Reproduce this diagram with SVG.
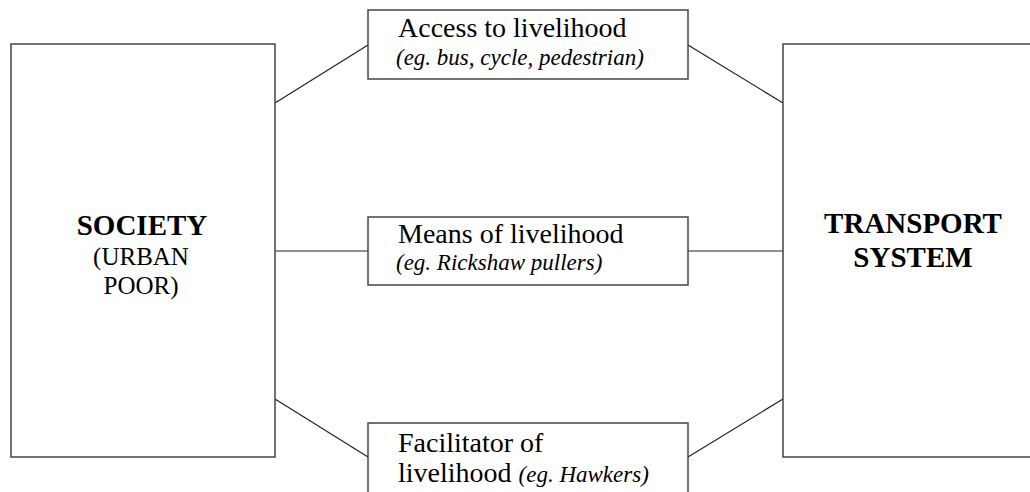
<svg xmlns="http://www.w3.org/2000/svg" width="1030" height="492" viewBox="0 0 1030 492">
<style>
.box{fill:#fff;stroke:#444;stroke-width:1.5}
.ln{stroke:#222;stroke-width:1.2;fill:none}
text{font-family:"Liberation Serif","Times New Roman",serif;fill:#000}
.big{font-size:29px;font-weight:bold}
.reg{font-size:28px}
.sub{font-size:25px}
.it{font-size:23px;font-style:italic}
</style>
<rect width="1030" height="492" fill="#fff"/>
<g id="connectors">
<line class="ln" x1="275" y1="103" x2="368" y2="45"/>
<line class="ln" x1="275" y1="251" x2="368" y2="251"/>
<line class="ln" x1="275" y1="399" x2="368" y2="457"/>
<line class="ln" x1="688" y1="45" x2="783" y2="103"/>
<line class="ln" x1="688" y1="251" x2="783" y2="251"/>
<line class="ln" x1="688" y1="457" x2="783" y2="399"/>
</g>
<g id="society">
<rect class="box" x="11" y="44" width="264" height="413"/>
<text class="big" x="142" y="235" text-anchor="middle">SOCIETY</text>
<text class="sub" x="141" y="265" text-anchor="middle">(URBAN</text>
<text class="sub" x="141" y="294" text-anchor="middle">POOR)</text>
</g>
<g id="transport">
<rect class="box" x="783" y="44" width="260" height="413"/>
<text class="big" x="913" y="233" text-anchor="middle">TRANSPORT</text>
<text class="big" x="913" y="267" text-anchor="middle">SYSTEM</text>
</g>
<g id="access">
<rect class="box" x="368" y="10" width="320" height="69"/>
<text class="reg" x="398" y="37">Access to livelihood</text>
<text class="it" x="396" y="65">(eg. bus, cycle, pedestrian)</text>
</g>
<g id="means">
<rect class="box" x="368" y="217" width="320" height="68"/>
<text class="reg" x="398" y="243">Means of livelihood</text>
<text class="it" x="396" y="270">(eg. Rickshaw pullers)</text>
</g>
<g id="facilitator">
<rect class="box" x="368" y="423" width="320" height="80"/>
<text class="reg" x="398" y="452">Facilitator of</text>
<text class="reg" x="398" y="482">livelihood <tspan class="it">(eg. Hawkers)</tspan></text>
</g>
</svg>
